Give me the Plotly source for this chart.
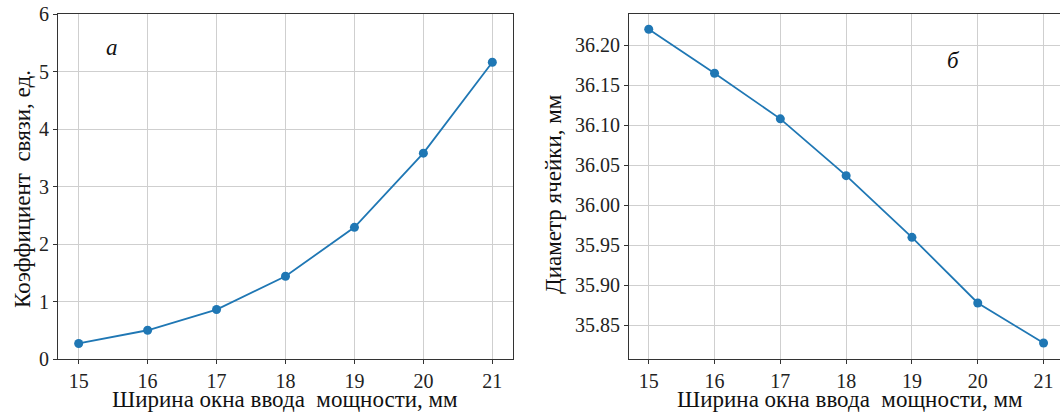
import plotly.graph_objects as go

width_mm = [15, 16, 17, 18, 19, 20, 21]
coupling = [0.27, 0.50, 0.86, 1.44, 2.29, 3.58, 5.16]
diameter = [36.220, 36.165, 36.108, 36.037, 35.960, 35.878, 35.828]

x_ticks = [15, 16, 17, 18, 19, 20, 21]
y1_ticks = [0, 1, 2, 3, 4, 5, 6]
y2_ticks = [35.85, 35.90, 35.95, 36.00, 36.05, 36.10, 36.15, 36.20]

xtitle = "Ширина окна ввода  мощности, мм"
y1title = "Коэффициент  связи, ед."
y2title = "Диаметр ячейки, мм"

W, H = 1060, 412
FONT = "'Liberation Serif', 'Times New Roman', serif"
blue = "#1f77b4"
axc = "#333333"
gridc = "#cfcfcf"

fig = go.Figure()
fig.add_trace(go.Scatter(x=width_mm, y=coupling, mode="lines+markers",
                         line=dict(color=blue, width=1.8),
                         marker=dict(color=blue, size=9),
                         xaxis="x", yaxis="y", showlegend=False))
fig.add_trace(go.Scatter(x=width_mm, y=diameter, mode="lines+markers",
                         line=dict(color=blue, width=1.8),
                         marker=dict(color=blue, size=9),
                         xaxis="x2", yaxis="y2", showlegend=False))

common_ax = dict(showline=True, linecolor=axc, linewidth=1.2,
                 showgrid=True, gridcolor=gridc, gridwidth=1,
                 ticks="outside", ticklen=4, tickcolor=axc,
                 tickfont=dict(family=FONT, size=20, color="#222"),
                 zeroline=False, automargin=False)

ydom = [1 - 359 / H, 1 - 14 / H]
fig.update_layout(
    template="none",
    width=W, height=H,
    margin=dict(l=0, r=0, t=0, b=0, autoexpand=False),
    paper_bgcolor="white", plot_bgcolor="white",
    font=dict(family=FONT, size=20, color="#222"),
    xaxis=dict(domain=[58 / W, 513 / W], range=[14.7, 21.3],
               tickvals=x_ticks, mirror=True, anchor="y", **common_ax),
    yaxis=dict(domain=ydom, range=[0, 6], tickvals=y1_ticks,
               mirror=True, anchor="x", **common_ax),
    xaxis2=dict(domain=[629 / W, 1.0], range=[14.7, 21.25],
                tickvals=x_ticks, mirror=True, anchor="y2", **common_ax),
    yaxis2=dict(domain=ydom, range=[35.808, 36.239], tickvals=y2_ticks,
                tickformat=".2f", mirror=False, anchor="x2", **common_ax),
)

tf = dict(family=FONT, size=23, color="#111")
base = dict(showarrow=False, xanchor="center", yanchor="middle")
ann = [
    dict(text=xtitle, x=285 / W, y=1 - 399 / H, xref="paper", yref="paper",
         font=tf, **base),
    dict(text=xtitle, x=850 / W, y=1 - 399 / H, xref="paper", yref="paper",
         font=tf, **base),
    dict(text=y1title, x=22 / W, y=1 - 189 / H, xref="paper", yref="paper",
         font=tf, textangle=-90, **base),
    dict(text=y2title, x=553 / W, y=1 - 194 / H, xref="paper", yref="paper",
         font=tf, textangle=-90, **base),
    dict(text="<i>а</i>", x=15.49, y=5.41, xref="x", yref="y",
         font=tf, **base),
    dict(text="<i>б</i>", x=19.63, y=36.181, xref="x2", yref="y2",
         font=tf, **base),
]
fig.update_layout(annotations=ann)

fig.write_html("out.html",
               config={"displayModeBar": False},
               post_script="document.body.style.margin='0';"
                           "document.body.style.overflow='hidden';")
